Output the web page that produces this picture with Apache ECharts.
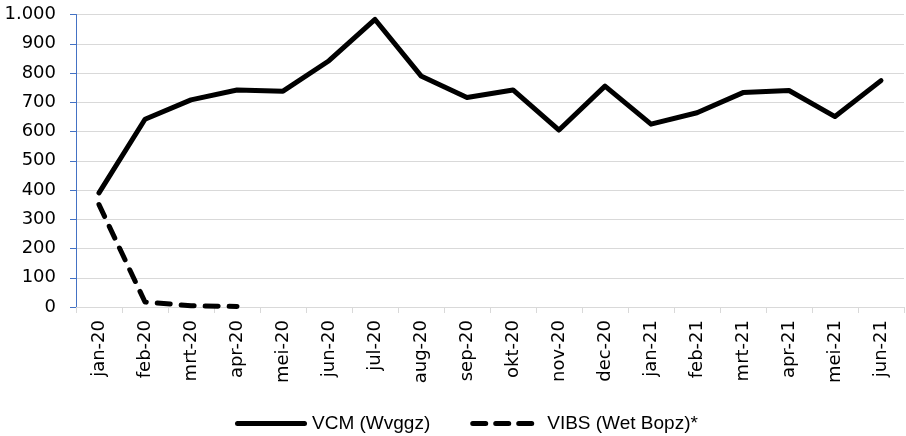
<!DOCTYPE html>
<html>
<head>
<meta charset="utf-8">
<script src="https://cdn.jsdelivr.net/npm/echarts@6/dist/echarts.min.js"></script>
<style>
html,body{margin:0;padding:0;background:#fff;}
#c{width:906px;height:436px;}
</style>
</head>
<body>
<div id="c"></div>
<script>
var categories = ['jan-20','feb-20','mrt-20','apr-20','mei-20','jun-20','jul-20','aug-20','sep-20','okt-20','nov-20','dec-20','jan-21','feb-21','mrt-21','apr-21','mei-21','jun-21'];
var vcmValues = [390, 642, 708, 742, 738, 842, 983, 790, 716, 742, 605, 755, 625, 664, 733, 740, 651, 774];
var vibsValues = [350, 17, 4, 2, null, null, null, null, null, null, null, null, null, null, null, null, null, null];
var yTicks = {min: 0, max: 1000, interval: 100};
var seriesNames = ['VCM (Wvggz)', 'VIBS (Wet Bopz)*'];

var solidIcon = 'path://M2.5,0 L69.5,0 A2.5,2.5 0 0 1 69.5,5 L2.5,5 A2.5,2.5 0 0 1 2.5,0 Z';
var dashedIcon = 'path://M2.5,0 L15.5,0 A2.5,2.5 0 0 1 15.5,5 L2.5,5 A2.5,2.5 0 0 1 2.5,0 Z ' +
  'M25.5,0 L38.5,0 A2.5,2.5 0 0 1 38.5,5 L25.5,5 A2.5,2.5 0 0 1 25.5,0 Z ' +
  'M48.5,0 L61.5,0 A2.5,2.5 0 0 1 61.5,5 L48.5,5 A2.5,2.5 0 0 1 48.5,0 Z ' +
  'M72,2.5 L72,2.5 Z';

var chart = echarts.init(document.getElementById('c'), null, {renderer: 'canvas'});
chart.setOption({
  animation: false,
  backgroundColor: '#ffffff',
  grid: {left: 76, right: 2, top: 14.5, bottom: 129, containLabel: false},
  legend: {
    left: 230, top: 409,
    itemWidth: 72, itemHeight: 5, itemGap: 40,
    textStyle: {fontFamily: 'Liberation Sans', fontSize: 19, color: '#000'},
    data: [
      {name: seriesNames[0], icon: solidIcon, itemStyle: {color: '#000'}},
      {name: seriesNames[1], icon: dashedIcon, itemStyle: {color: '#000'}}
    ]
  },
  xAxis: {
    type: 'category',
    data: categories,
    boundaryGap: true,
    axisLine: {lineStyle: {color: '#d9d9d9', width: 1}},
    axisTick: {show: true, length: 6, alignWithLabel: false, lineStyle: {color: '#d9d9d9', width: 1}},
    axisLabel: {rotate: 90, margin: 13, interval: 0, fontFamily: 'DejaVu Sans', fontSize: 18, color: '#000'},
    splitLine: {show: false}
  },
  yAxis: {
    type: 'value',
    min: yTicks.min, max: yTicks.max, interval: yTicks.interval,
    axisLine: {show: true, lineStyle: {color: '#4472C4', width: 1}},
    axisTick: {show: true, length: 6, lineStyle: {color: '#4472C4', width: 1}},
    axisLabel: {
      margin: 20, fontFamily: 'DejaVu Sans', fontSize: 18, color: '#000',
      formatter: function (v) { return String(v).replace(/\B(?=(\d{3})+(?!\d))/g, '.'); }
    },
    splitLine: {show: true, lineStyle: {color: '#d9d9d9', width: 1}}
  },
  series: [
    {
      name: seriesNames[0], type: 'line', data: vcmValues,
      symbol: 'none', showSymbol: false,
      lineStyle: {color: '#000', width: 5, join: 'round', cap: 'round'},
      itemStyle: {color: '#000'}
    },
    {
      name: seriesNames[1], type: 'line', data: vibsValues,
      symbol: 'none', showSymbol: false, connectNulls: false,
      lineStyle: {color: '#000', width: 5, type: [13, 11], join: 'round', cap: 'round'},
      itemStyle: {color: '#000'}
    }
  ]
});
</script>
</body>
</html>
